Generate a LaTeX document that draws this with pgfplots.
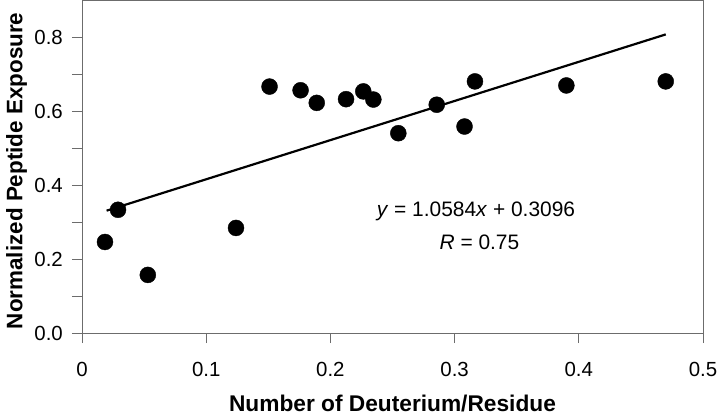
\documentclass[border=0pt]{standalone}
\usepackage{fontspec}
\setmainfont{Liberation Sans}
\usepackage{pgfplots}
\pgfplotsset{compat=1.18}
\begin{document}
\begin{tikzpicture}
\begin{axis}[
  scale only axis,
  width=621bp, height=333bp,
  at={(0,0)}, anchor=south west,
  xmin=0, xmax=0.5, ymin=0, ymax=0.9,
  xtick={0,0.1,0.2,0.3,0.4,0.5},
  xticklabels={0,0.1,0.2,0.3,0.4,0.5},
  ytick={0,0.2,0.4,0.6,0.8},
  yticklabels={0.0,0.2,0.4,0.6,0.8},
  minor ytick={0.1,0.3,0.5,0.7},
  tick align=outside,
  major tick length=10bp, minor tick length=10bp,
  xtick pos=bottom, ytick pos=left,
  axis line style={draw=gray!85!black, line width=1pt},
  tick style={draw=gray!85!black, line width=0.8pt},
  every tick label/.append style={font=\fontsize{20.5}{24}\selectfont, inner sep=0pt},
  xticklabel style={anchor=north, yshift=-19bp},
  yticklabel style={anchor=east, xshift=-9bp},
  xlabel={\textbf{Number of Deuterium/Residue}},
  ylabel={\textbf{Normalized Peptide Exposure}},
  label style={font=\fontsize{22.8}{26}\selectfont, inner sep=0pt},
  xlabel style={at={(axis description cs:0.5,0)}, anchor=north, yshift=-62bp},
  ylabel style={at={(axis description cs:-0.1224,0.487)}, anchor=north, font=\fontsize{22.5}{26}\selectfont},
  clip=false,
]
\addplot[only marks, mark=*, mark size=8bp, mark options={fill=black, draw=black}] coordinates {
(0.0185,0.246) (0.029,0.333) (0.053,0.157) (0.124,0.284)
(0.151,0.666) (0.176,0.656) (0.189,0.622) (0.2126,0.632)
(0.2265,0.653) (0.2346,0.631) (0.2547,0.540) (0.2856,0.617)
(0.308,0.558) (0.3164,0.680) (0.390,0.669) (0.470,0.680)
};
\addplot[black, line width=2.2pt] coordinates {(0.0198,0.3306) (0.470,0.8070)};
\node[font=\fontsize{21}{25}\selectfont, inner sep=0pt] at (axis cs:0.3172,0.330) {\textit{y} = 1.0584\textit{x} + 0.3096};
\node[font=\fontsize{21}{25}\selectfont, inner sep=0pt] at (axis cs:0.3200,0.246) {\textit{R} = 0.75};
\end{axis}
\pgfresetboundingbox
\useasboundingbox (-82bp,-82bp) rectangle (638bp,333bp);
\end{tikzpicture}
\end{document}
